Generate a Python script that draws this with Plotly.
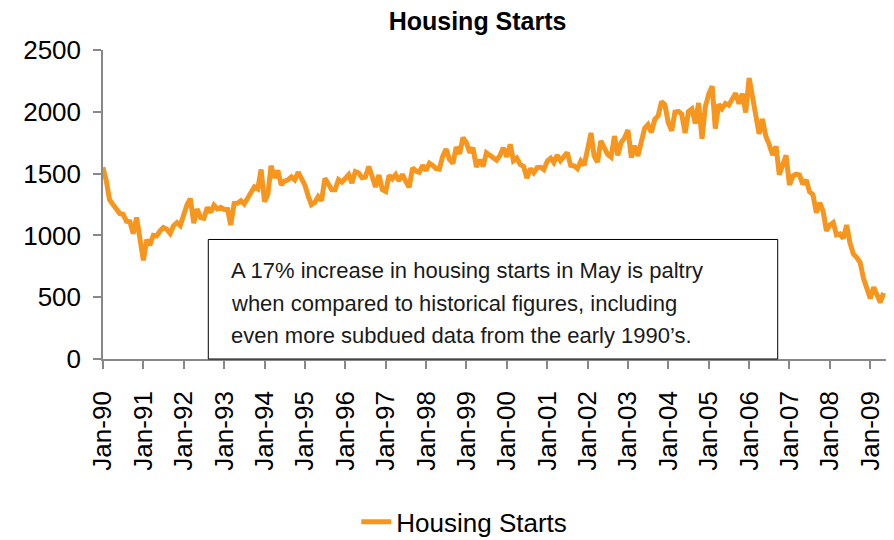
import pandas as pd
import plotly.graph_objects as go

# Housing starts (thousands, SAAR), monthly, Jan-1990 .. May-2009
y1990 = [1551, 1437, 1289, 1248, 1212, 1177, 1171, 1115, 1110, 1014, 1145, 969]
y1991 = [798, 965, 921, 1001, 996, 1036, 1063, 1049, 1015, 1079, 1103, 1079]
y1992 = [1176, 1250, 1297, 1099, 1214, 1145, 1139, 1226, 1186, 1244, 1214, 1227]
y1993 = [1210, 1210, 1083, 1258, 1260, 1280, 1254, 1300, 1343, 1392, 1376, 1533]
y1994 = [1272, 1337, 1564, 1465, 1526, 1409, 1439, 1450, 1474, 1450, 1511, 1455]
y1995 = [1407, 1316, 1249, 1267, 1314, 1281, 1461, 1416, 1369, 1369, 1452, 1431]
y1996 = [1467, 1491, 1424, 1516, 1504, 1467, 1472, 1557, 1475, 1392, 1489, 1370]
y1997 = [1355, 1486, 1457, 1492, 1442, 1494, 1437, 1390, 1546, 1520, 1510, 1566]
y1998 = [1525, 1584, 1567, 1540, 1536, 1641, 1698, 1614, 1582, 1715, 1660, 1792]
y1999 = [1748, 1670, 1710, 1553, 1611, 1559, 1669, 1648, 1635, 1608, 1648, 1708]
y2000 = [1636, 1737, 1604, 1626, 1575, 1559, 1463, 1541, 1507, 1549, 1551, 1532]
y2001 = [1600, 1625, 1590, 1649, 1605, 1636, 1670, 1567, 1562, 1540, 1602, 1568]
y2002 = [1698, 1829, 1642, 1592, 1764, 1717, 1655, 1633, 1804, 1648, 1753, 1788]
y2003 = [1853, 1629, 1726, 1643, 1751, 1867, 1897, 1833, 1939, 1967, 2083, 2057]
y2004 = [1911, 1846, 1998, 2003, 1981, 1828, 2002, 2024, 1905, 2072, 1782, 2042]
y2005 = [2144, 2207, 1864, 2061, 2025, 2068, 2054, 2095, 2151, 2065, 2147, 1994]
y2006 = [2273, 2119, 1969, 1821, 1942, 1802, 1737, 1650, 1720, 1491, 1570, 1649]
y2007 = [1409, 1480, 1495, 1490, 1415, 1448, 1354, 1330, 1183, 1264, 1197, 1037]
y2008 = [1084, 1103, 1005, 1013, 975, 1084, 940, 850, 820, 780, 650, 560]
y2009 = [490, 580, 510, 458, 535]

starts = (y1990 + y1991 + y1992 + y1993 + y1994 + y1995 + y1996 + y1997 + y1998
          + y1999 + y2000 + y2001 + y2002 + y2003 + y2004 + y2005 + y2006
          + y2007 + y2008 + y2009)
months = pd.date_range("1990-01-01", periods=len(starts), freq="MS")

y_ticks = [0, 500, 1000, 1500, 2000, 2500]

note_lines = [
    "A 17% increase in housing starts in May is paltry",
    "when compared to historical figures, including",
    "even more subdued data from the early 1990\u2019s.",
]

FONT = "Liberation Sans, Arial, sans-serif"
ORANGE = "#F7961E"
AXIS = "#888888"

fig = go.Figure()
fig.add_trace(go.Scatter(
    x=months, y=starts, mode="lines", name="Housing Starts",
    line=dict(color=ORANGE, width=5),
))

# page body has an 8px default margin, so the figure is sized to fit
fig.update_layout(
    width=886, height=532,
    margin=dict(l=95, r=7, t=41.5, b=181, autoexpand=False),
    paper_bgcolor="white", plot_bgcolor="white",
    font=dict(family=FONT, color="#000000"),
    title=dict(
        text="<b>Housing Starts</b>", font=dict(size=25, family=FONT, color="#000000"),
        x=0.530, xanchor="center", xref="container",
        y=0.976, yanchor="middle", yref="container",
    ),
    showlegend=True,
    legend=dict(
        orientation="h", x=0.515, xanchor="center", y=0.034, yanchor="middle",
        xref="container", yref="container",
        font=dict(size=26, family=FONT, color="#000000"),
        bgcolor="rgba(0,0,0,0)",
    ),
)

fig.update_xaxes(
    type="date",
    range=["1990-01-01", "2009-06-01"],
    tick0="1990-01-01", dtick="M12", tickformat="%b-%y",
    tickangle=-90,
    tickfont=dict(size=26, family=FONT, color="#000000"),
    ticks="outside", ticklen=8, tickwidth=1.5, tickcolor=AXIS,
    showline=True, linecolor=AXIS, linewidth=1.5,
    showgrid=False, zeroline=False, automargin=False,
    ticklabelstandoff=12,
)
fig.update_yaxes(
    range=[0, 2500], tickvals=y_ticks,
    tickfont=dict(size=26, family=FONT, color="#000000"),
    ticks="outside", ticklen=8, tickwidth=1.5, tickcolor=AXIS,
    showline=True, linecolor=AXIS, linewidth=1.5,
    showgrid=False, zeroline=False, automargin=False,
    ticklabelstandoff=7,
)

# Annotation box
fig.add_shape(
    type="rect", xref="paper", yref="paper",
    x0=0.1343, x1=0.8606, y0=0.0, y1=0.3868,
    line=dict(color="#000000", width=1), fillcolor="white", layer="above",
)
for txt, yy in zip(note_lines, [0.2876, 0.1796, 0.0775]):
    fig.add_annotation(
        text=txt, xref="paper", yref="paper", x=0.1607, y=yy,
        xanchor="left", yanchor="middle", showarrow=False,
        font=dict(size=22, family=FONT, color="#1a1a1a"),
    )

fig.write_html("out.html")
